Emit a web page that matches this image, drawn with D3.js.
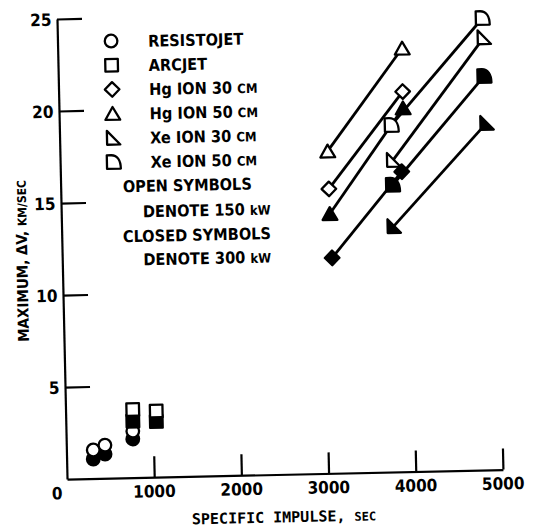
<!DOCTYPE html>
<html>
<head>
<meta charset="utf-8">
<script src="https://cdn.jsdelivr.net/npm/d3@7"></script>
<style>
  body { margin: 0; background: #fff; }
  text { fill: #000; }
</style>
</head>
<body>
<svg id="chart" width="549" height="529"></svg>
<script>
// ---- axis ticks ----
const xTicks = [0, 1000, 2000, 3000, 4000, 5000];
const yTicks = [5, 10, 15, 20, 25];

// ---- data: [specific impulse (sec), maximum delta-V (km/sec)] ----
const resistojet150 = [[308, 1.55], [443, 1.80], [766, 2.53]];
const resistojet300 = [[306, 1.06], [442, 1.31], [764, 2.10]];
const arcjet150 = [[771, 3.70], [1040, 3.59]];
const arcjet300 = [[769, 3.07], [1038, 3.02]];

const hgIon30_150 = [[3075, 15.45], [3945, 20.65]];
const hgIon50_150 = [[3070, 17.50], [3950, 23.00]];
const hgIon30_300 = [[3095, 11.70], [3915, 16.30]];
const hgIon50_300 = [[3080, 14.10], [3945, 19.75]];
const xeIon30_150 = [[3820, 16.95], [4890, 23.50]];
const xeIon50_150 = [[3810, 18.85], [4880, 24.55]];
const xeIon30_300 = [[3810, 13.35], [4900, 18.85]];
const xeIon50_300 = [[3810, 15.60], [4885, 21.40]];

// legend entries
const legendShapes = ["circle", "square", "diamond", "triangle", "xe30", "xe50"];
const legendLabels = [
  ["RESISTOJET", ""],
  ["ARCJET", ""],
  ["Hg ION 30 ", "CM"],
  ["Hg ION 50 ", "CM"],
  ["Xe ION 30 ", "CM"],
  ["Xe ION 50 ", "CM"]
];
const noteLines = [
  ["OPEN SYMBOLS", ""],
  ["DENOTE 150 ", "kW"],
  ["CLOSED SYMBOLS", ""],
  ["DENOTE 300 ", "kW"]
];

// series list built from the arrays above
const lineSeries = [
  { shape: "triangle", open: true,  pts: hgIon50_150 },
  { shape: "diamond",  open: true,  pts: hgIon30_150 },
  { shape: "triangle", open: false, pts: hgIon50_300 },
  { shape: "diamond",  open: false, pts: hgIon30_300 },
  { shape: "xe50",     open: true,  pts: xeIon50_150 },
  { shape: "xe30",     open: true,  pts: xeIon30_150 },
  { shape: "xe50",     open: false, pts: xeIon50_300 },
  { shape: "xe30",     open: false, pts: xeIon30_300 }
];
const pointSeries = [
  { shape: "circle", open: false, pts: resistojet300 },
  { shape: "circle", open: true,  pts: resistojet150 },
  { shape: "square", open: false, pts: arcjet300 },
  { shape: "square", open: true,  pts: arcjet150 }
];

const FONT = "'Liberation Sans Narrow', 'DejaVu Sans Condensed', 'Liberation Sans', sans-serif";
const MONO = "'DejaVu Sans Mono', 'Liberation Mono', monospace";

// marker outlines, centred on the point
const shapePaths = {
  circle:   "M6.3,0A6.3,6.3 0 1 1 -6.3,0A6.3,6.3 0 1 1 6.3,0Z",
  square:   "M-6.3,-6.3H6.3V6.3H-6.3Z",
  diamond:  "M0,-7.3L7.3,0L0,7.3L-7.3,0Z",
  triangle: "M0,-6.6L7.4,6.2H-7.4Z",
  xe30:     "M-6.2,-7L-6.2,6.8H7Z",
  xe50:     "M-6.8,6.8V-6.8H-2.5C3.5,-6.8 7,-1.5 7,6.8Z"
};

const svg = d3.select("#chart");
// whole drawing sits at a slight tilt
const g = svg.append("g").attr("transform", "rotate(-1.25,275,265)");

const x = d3.scaleLinear().domain([0, 5000]).range([62.4, 498.4]);
const y = d3.scaleLinear().domain([0, 25]).range([474.5, 14.3]);

// ---- axes ----
const xAxis = g.append("g")
  .attr("transform", `translate(0,${y(0)})`)
  .call(d3.axisBottom(x).tickValues(xTicks.slice(1)).tickSize(-21).tickSizeOuter(0).tickFormat(""));
const yAxis = g.append("g")
  .attr("transform", `translate(${x(0)},0)`)
  .call(d3.axisLeft(y).tickValues(yTicks).tickSize(-25).tickSizeOuter(0).tickPadding(5.5).tickFormat(d3.format("d")));

[xAxis, yAxis].forEach(a => {
  a.attr("font-family", null).attr("font-size", null);
  a.selectAll("path, line").attr("stroke", "#000").attr("stroke-width", 2.2);
});
yAxis.selectAll("text")
  .attr("font-family", FONT).attr("font-size", 17).attr("font-weight", "bold")
  .attr("dy", "0.36em");

// x tick labels
g.append("g").selectAll("text").data(xTicks).join("text")
  .attr("x", d => x(d) - (d === 0 ? 10 : 0))
  .attr("y", y(0) + 20)
  .attr("text-anchor", "middle")
  .attr("font-family", FONT).attr("font-size", 17).attr("font-weight", "bold")
  .text(d => d);

// axis titles
const xt = g.append("text")
  .attr("x", 278.5).attr("y", 522.5)
  .attr("text-anchor", "middle")
  .attr("font-family", MONO).attr("font-size", 15).attr("font-weight", "bold");
xt.append("tspan").text("SPECIFIC IMPULSE, ");
xt.append("tspan").attr("font-size", 12).text("SEC");

const yt = g.append("text")
  .attr("transform", "translate(27.5,255.5) rotate(-90)")
  .attr("text-anchor", "middle")
  .attr("font-family", FONT).attr("font-size", 15).attr("font-weight", "bold");
yt.append("tspan").text("MAXIMUM, ΔV, ");
yt.append("tspan").attr("font-size", 12).text("KM/SEC");

// ---- ion thruster lines ----
const line = d3.line().x(d => x(d[0])).y(d => y(d[1]));
g.append("g").selectAll("path").data(lineSeries).join("path")
  .attr("d", d => line(d.pts))
  .attr("fill", "none").attr("stroke", "#000").attr("stroke-width", 2.8);

function drawMarkers(series) {
  series.forEach(s => {
    g.append("g").selectAll("path").data(s.pts).join("path")
      .attr("transform", d => `translate(${x(d[0])},${y(d[1])})`)
      .attr("d", shapePaths[s.shape])
      .attr("fill", s.open ? "#fff" : "#000")
      .attr("stroke", "#000").attr("stroke-width", 2.3)
      .attr("stroke-linejoin", "round");
  });
}
drawMarkers(pointSeries);
drawMarkers(lineSeries);

// ---- legend ----
const leg = g.append("g");
const rowY = i => 37.5 + 24.2 * i;
leg.selectAll("path").data(legendShapes).join("path")
  .attr("transform", (d, i) => `translate(116,${rowY(i)})`)
  .attr("d", d => shapePaths[d])
  .attr("fill", "#fff").attr("stroke", "#000").attr("stroke-width", 2.3)
  .attr("stroke-linejoin", "round");

function label(sel, parts, smallSize) {
  sel.append("tspan").text(parts[0]);
  if (parts[1]) sel.append("tspan").attr("font-size", smallSize).text(parts[1]);
}
legendLabels.forEach((parts, i) => {
  const t = leg.append("text")
    .attr("x", 153).attr("y", rowY(i) + 6.5)
    .attr("font-family", FONT).attr("font-size", 16.2).attr("font-weight", "bold");
  label(t, parts, 13);
});
const noteX = [124.5, 144, 123.5, 143.5];
const noteY = [189, 214.5, 239, 262.5];
noteLines.forEach((parts, i) => {
  const t = leg.append("text")
    .attr("x", noteX[i]).attr("y", noteY[i])
    .attr("font-family", FONT).attr("font-size", 16.2).attr("font-weight", "bold");
  label(t, parts, 13);
});
</script>
</body>
</html>
